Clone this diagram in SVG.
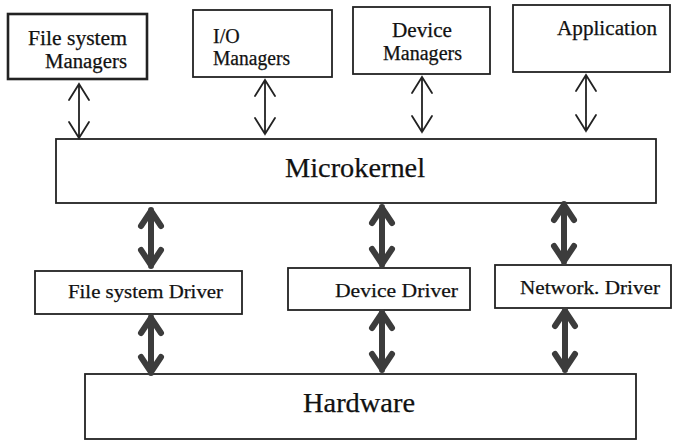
<svg xmlns="http://www.w3.org/2000/svg" width="673" height="442" viewBox="0 0 673 442">
<style>
.box{fill:#fff;stroke:#222;stroke-width:1.8}
.t{font-family:"Liberation Serif","Times New Roman",serif;fill:#111;stroke:#111;stroke-width:0.25}
.s{font-size:20px}
.m{font-size:19.5px}
.l{font-size:28px}
.thin{stroke:#222;stroke-width:1.8;fill:none;stroke-linecap:round;stroke-linejoin:miter}
.thick{stroke:#3c3c3c;stroke-width:6;fill:none;stroke-linecap:round;stroke-linejoin:round}
</style>
<rect width="673" height="442" fill="#fff"/>
<g id="fs-managers">
<rect class="box" x="8" y="14" width="139" height="65" style="stroke-width:2.6"/>
<text class="t s" x="28" y="45" textLength="99" lengthAdjust="spacingAndGlyphs">File system</text>
<text class="t s" x="45" y="68" textLength="82" lengthAdjust="spacingAndGlyphs">Managers</text>
</g>
<g id="io-managers">
<rect class="box" x="193" y="10" width="139" height="67"/>
<text class="t s" x="213" y="43">I/O</text>
<text class="t s" x="213" y="65" textLength="77" lengthAdjust="spacingAndGlyphs">Managers</text>
</g>
<g id="device-managers">
<rect class="box" x="353" y="7" width="137" height="67"/>
<text class="t s" x="392" y="37" textLength="60" lengthAdjust="spacingAndGlyphs">Device</text>
<text class="t s" x="383" y="60" textLength="79" lengthAdjust="spacingAndGlyphs">Managers</text>
</g>
<g id="application">
<rect class="box" x="513" y="5" width="157" height="67"/>
<text class="t s" x="557" y="35" textLength="100" lengthAdjust="spacingAndGlyphs">Application</text>
</g>
<g id="microkernel">
<rect class="box" x="56" y="139" width="600" height="64"/>
<text class="t l" x="285" y="177" textLength="140" lengthAdjust="spacingAndGlyphs">Microkernel</text>
</g>
<g id="fs-driver">
<rect class="box" x="35" y="271" width="207" height="43"/>
<text class="t m" x="68" y="298" textLength="155" lengthAdjust="spacingAndGlyphs">File system Driver</text>
</g>
<g id="device-driver">
<rect class="box" x="288" y="268" width="182" height="42"/>
<text class="t m" x="335" y="297" textLength="123" lengthAdjust="spacingAndGlyphs">Device Driver</text>
</g>
<g id="network-driver">
<rect class="box" x="495" y="265" width="176" height="43"/>
<text class="t m" x="520" y="294" textLength="140" lengthAdjust="spacingAndGlyphs">Network. Driver</text>
</g>
<g id="hardware">
<rect class="box" x="85" y="374" width="551" height="65"/>
<text class="t l" x="303" y="412" textLength="112" lengthAdjust="spacingAndGlyphs">Hardware</text>
</g>
<g id="connectors">
<g class="thin">
<path d="M79 84V138M69 100L79 84L89 100M69 122L79 138L89 122"/>
<path d="M265 80V134M255 96L265 80L275 96M255 118L265 134L275 118"/>
<path d="M422 77V132M412 93L422 77L432 93M412 116L422 132L432 116"/>
<path d="M586 75V131M576 91L586 75L596 91M576 115L586 131L596 115"/>
</g>
<g class="thick">
<path d="M151 210V266M141 226L151 211L161 226M141 250L151 265L161 250"/>
<path d="M382 207V265M372 223L382 208L392 223M372 249L382 264L392 249"/>
<path d="M564 204V262M554 220L564 205L574 220M554 246L564 261L574 246"/>
<path d="M151 317V373M141 333L151 318L161 333M141 357L151 372L161 357"/>
<path d="M382 312V370M372 328L382 313L392 328M372 354L382 369L392 354"/>
<path d="M565 310V370M555 326L565 311L575 326M555 354L565 369L575 354"/>
</g>
</g>
</svg>
